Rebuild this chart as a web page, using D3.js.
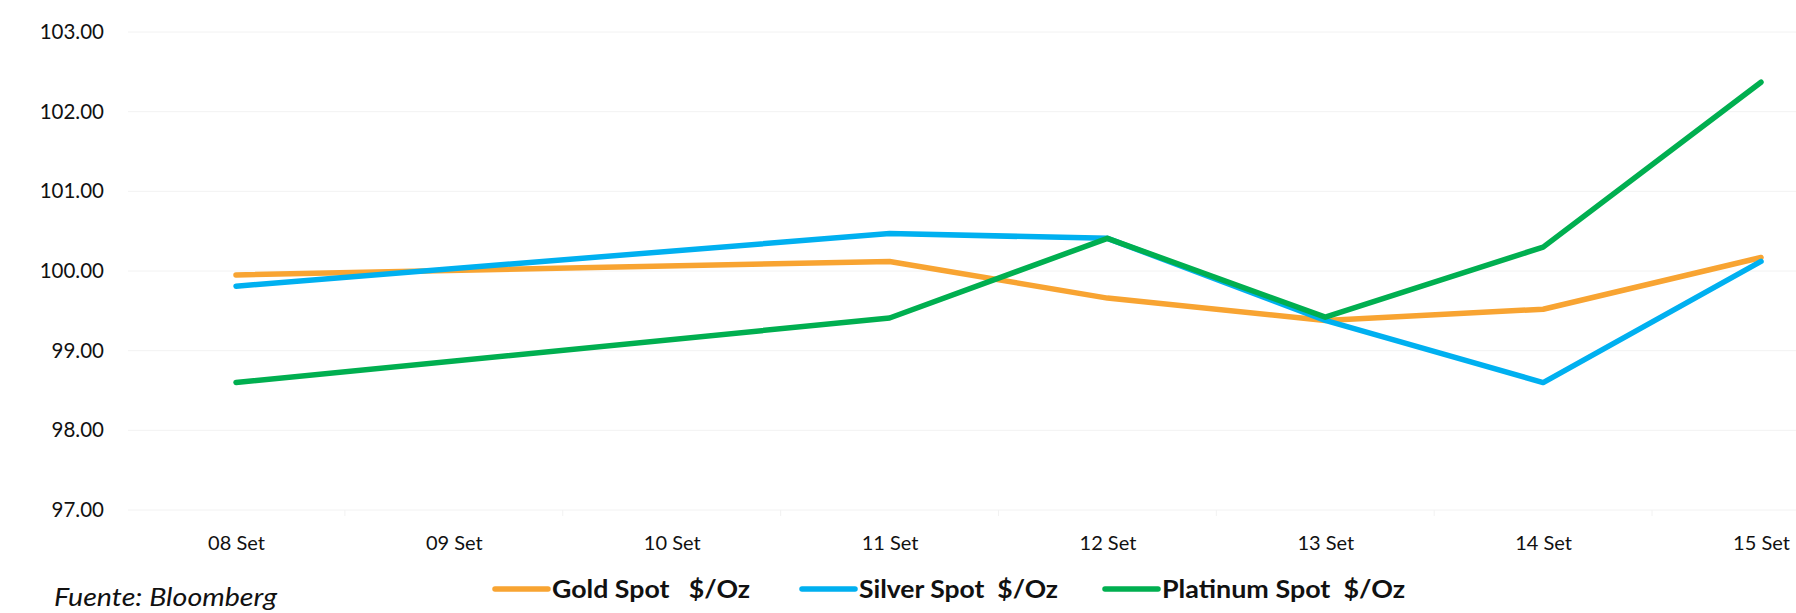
<!DOCTYPE html>
<html>
<head>
<meta charset="utf-8">
<script src="https://cdn.jsdelivr.net/npm/d3@7"></script>
<style>
  body { margin: 0; background: #fff; }
  text { font-family: Lato, "Open Sans", sans-serif; }
</style>
</head>
<body>
<div id="chart"></div>
<script>
// trading days (Sep 2023), weekend 09-10 has no points
const dates = ["2023-09-08", "2023-09-11", "2023-09-12", "2023-09-13", "2023-09-14", "2023-09-15"];
const gold = [99.95, 100.12, 99.66, 99.38, 99.52, 100.17];
const silver = [99.81, 100.47, 100.41, 99.38, 98.60, 100.12];
const platinum = [98.60, 99.41, 100.41, 99.42, 100.30, 102.37];
const seriesNames = ["Gold Spot   $/Oz", "Silver Spot  $/Oz", "Platinum Spot  $/Oz"];
const yTicks = [97, 98, 99, 100, 101, 102, 103];

const W = 1796, H = 613;
const parse = d3.timeParse("%Y-%m-%d");
const colors = ["#F8A432", "#00B0F0", "#00AF50"];

const series = [gold, silver, platinum].map((vals, k) => ({
  name: seriesNames[k],
  color: colors[k],
  values: vals.map((v, i) => ({ date: parse(dates[i]), value: v }))
}));

const svg = d3.select("#chart").append("svg")
  .attr("width", W).attr("height", H);

const x = d3.scaleTime()
  .domain([parse("2023-09-08"), parse("2023-09-15")])
  .range([236, 1761]);
const y = d3.scaleLinear().domain([97, 103]).range([510, 32]);
const dayW = x(parse("2023-09-09")) - x(parse("2023-09-08"));

// gridlines
svg.append("g")
  .selectAll("line")
  .data(yTicks)
  .join("line")
  .attr("x1", 128).attr("x2", x(parse("2023-09-15")) + dayW / 2)
  .attr("y1", d => y(d)).attr("y2", d => y(d))
  .attr("stroke", "#f2f2f2").attr("stroke-width", 1);

// y axis
const yAxis = svg.append("g")
  .attr("transform", "translate(104,0)")
  .call(d3.axisLeft(y).tickValues(yTicks).tickFormat(d3.format(".2f")).tickSize(0).tickPadding(0));
yAxis.select(".domain").remove();
yAxis.selectAll("text")
  .attr("fill", "#111").style("font-size", "20.5px");

// x axis (labels on days, faint ticks between days)
const days = d3.timeDay.range(parse("2023-09-08"), d3.timeDay.offset(parse("2023-09-15"), 1));
const xAxis = svg.append("g")
  .attr("transform", "translate(0,510)")
  .call(d3.axisBottom(x).tickValues(days).tickFormat(d => d3.timeFormat("%d")(d) + " Set").tickSize(0).tickPadding(26));
xAxis.select(".domain").remove();
xAxis.selectAll("text")
  .attr("fill", "#111").style("font-size", "20px");

svg.append("g")
  .selectAll("line")
  .data(days.slice(0, -1))
  .join("line")
  .attr("x1", d => x(d) + dayW / 2).attr("x2", d => x(d) + dayW / 2)
  .attr("y1", 510).attr("y2", 516)
  .attr("stroke", "#f2f2f2");

// lines
const line = d3.line()
  .x(d => x(d.date))
  .y(d => y(d.value));

svg.append("g")
  .selectAll("path")
  .data(series)
  .join("path")
  .attr("d", d => line(d.values))
  .attr("fill", "none")
  .attr("stroke", d => d.color)
  .attr("stroke-width", 5.5)
  .attr("stroke-linecap", "round")
  .attr("stroke-linejoin", "round");

// legend
const legendX = [495, 802, 1105];
const legendW = [198, 199, 243];
const legend = svg.append("g")
  .selectAll("g")
  .data(series)
  .join("g")
  .attr("transform", (d, i) => `translate(${legendX[i]},589)`);
legend.append("line")
  .attr("x1", 0).attr("x2", 53)
  .attr("stroke", d => d.color)
  .attr("stroke-width", 5.5)
  .attr("stroke-linecap", "round");
legend.append("text")
  .attr("x", 57).attr("dy", "0.36em")
  .style("font-size", "24px").style("font-weight", "bold")
  .style("white-space", "pre")
  .attr("textLength", (d, i) => legendW[i])
  .attr("lengthAdjust", "spacingAndGlyphs")
  .attr("fill", "#111")
  .text(d => d.name);

// source note
svg.append("text")
  .attr("x", 54).attr("y", 606)
  .style("font-size", "25px").style("font-style", "italic")
  .attr("textLength", 223)
  .attr("lengthAdjust", "spacingAndGlyphs")
  .attr("fill", "#111")
  .text("Fuente: Bloomberg");
</script>
</body>
</html>
